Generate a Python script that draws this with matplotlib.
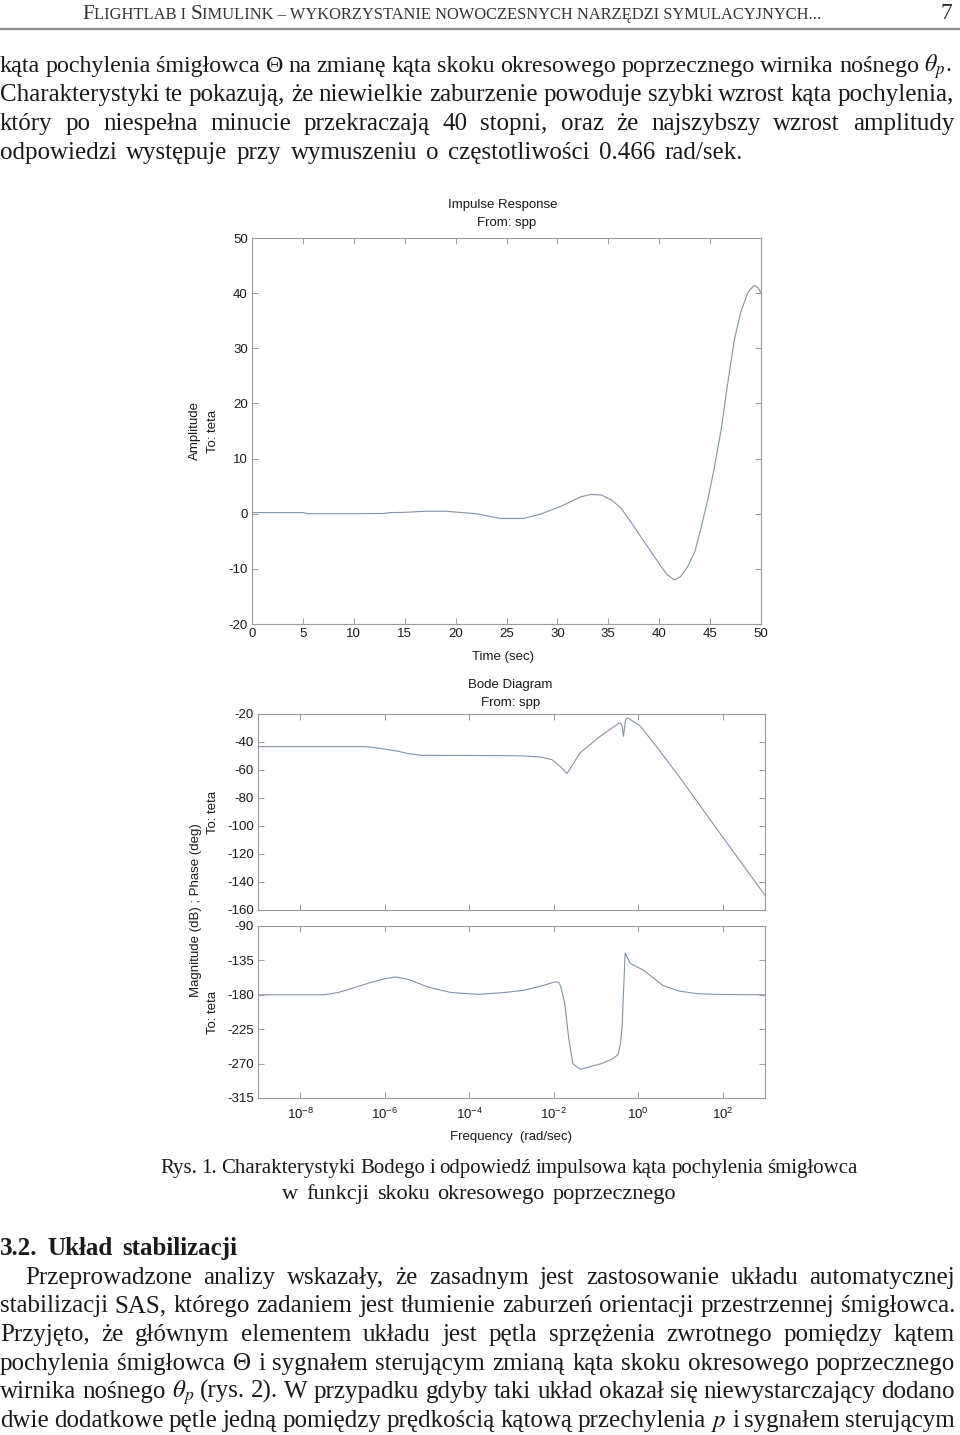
import matplotlib
matplotlib.use("Agg")
import matplotlib.pyplot as plt
import numpy as np

# ── data ─────────────────────────────────────────────────────────────────────

imp_t = [0, 5, 5.5, 10, 13, 13.5, 15, 17, 19, 20, 22, 24.4, 26.7, 28.3, 30.3,
         31.3, 32.3, 33.3, 34.3, 35.3, 36.25, 37.2, 38.2, 39.2, 40.2, 40.8,
         41.5, 42.1, 42.8, 43.5, 44.1, 44.8, 45.4, 46.1, 46.7, 47.4, 48.0,
         48.7, 49.3, 49.7, 50]
imp_amp = [0.2, 0.2, 0.0, 0.0, 0.05, 0.2, 0.25, 0.45, 0.45, 0.3, 0.0, -0.85,
           -0.85, -0.1, 1.3, 2.2, 3.07, 3.5, 3.4, 2.5, 1.0, -1.45, -4.2, -6.9,
           -9.6, -11.1, -12.0, -11.4, -9.6, -6.9, -2.65, 2.8, 8.2, 15.4, 23.3,
           31.7, 36.5, 40.1, 41.4, 41.0, 40.1]

mag_logw = [-9, -6.45, -6.2, -5.95, -5.7, -5.45, -5.15, -4.0, -3.0, -2.7,
            -2.33, -2.05, -1.85, -1.75, -1.69, -1.6, -1.38, -0.9, -0.6, -0.47,
            -0.42, -0.38, -0.35, -0.3, -0.25, 0.05, 0.5, 1.0, 2.0, 3.0]
mag_db = [-43.3, -43.3, -44.2, -45.3, -46.5, -48.2, -49.5, -49.6, -49.8,
          -50.0, -50.7, -52.5, -57.4, -60.5, -62.6, -58.5, -47.8, -35.9,
          -29.5, -26.8, -26.5, -28.7, -35.9, -24.0, -22.7, -28.7, -46.0,
          -66.0, -108.0, -149.5]

phase_logw = [-9, -7.43, -7.1, -6.8, -6.34, -6.0, -5.75, -5.43, -4.97, -4.43,
              -3.79, -3.15, -2.7, -2.24, -1.97, -1.88, -1.83, -1.74, -1.65,
              -1.55, -1.37, -0.87, -0.6, -0.48, -0.42, -0.38, -0.36, -0.31,
              -0.19, 0.13, 0.58, 0.95, 1.4, 1.86, 3.0]
phase_deg = [-180, -180, -177, -172, -164, -159, -156.7, -160, -170, -177,
             -179.4, -177, -174, -167.6, -163, -163.5, -170, -191.6, -235,
             -270, -277.5, -270, -263.6, -258, -244, -220, -191.6, -125.3,
             -139, -148, -167.6, -175, -178.5, -179.5, -180]

imp_xticks = [0, 5, 10, 15, 20, 25, 30, 35, 40, 45, 50]
imp_yticks = [-20, -10, 0, 10, 20, 30, 40, 50]
mag_yticks = [-160, -140, -120, -100, -80, -60, -40, -20]
phase_yticks = [-315, -270, -225, -180, -135, -90]
freq_exps = [-8, -6, -4, -2, 0, 2]

header_parts = [("F", 1.0), ("LIGHTLAB I ", 0.78), ("S", 1.0),
                ("IMULINK – WYKORZYSTANIE NOWOCZESNYCH NARZĘDZI SYMULACYJNYCH...", 0.78)]

para1 = [
    "kąta pochylenia śmigłowca Θ na zmianę kąta skoku okresowego poprzecznego wirnika nośnego $\\theta_p$.",
    "Charakterystyki te pokazują, że niewielkie zaburzenie powoduje szybki wzrost kąta pochylenia,",
    "który po niespełna minucie przekraczają 40 stopni, oraz że najszybszy wzrost amplitudy",
    "odpowiedzi występuje przy wymuszeniu o częstotliwości 0.466 rad/sek.",
]
caption = [
    "Rys. 1. Charakterystyki Bodego i odpowiedź impulsowa kąta pochylenia śmigłowca",
    "w funkcji skoku okresowego poprzecznego",
]
heading = "3.2. Układ stabilizacji"
para2 = [
    "Przeprowadzone analizy wskazały, że zasadnym jest zastosowanie układu automatycznej",
    "stabilizacji SAS, którego zadaniem jest tłumienie zaburzeń orientacji przestrzennej śmigłowca.",
    "Przyjęto, że głównym elementem układu jest pętla sprzężenia zwrotnego pomiędzy kątem",
    "pochylenia śmigłowca Θ i sygnałem sterującym zmianą kąta skoku okresowego poprzecznego",
    "wirnika nośnego $\\theta_p$ (rys. 2). W przypadku gdyby taki układ okazał się niewystarczający dodano",
    "dwie dodatkowe pętle jedną pomiędzy prędkością kątową przechylenia $p$ i sygnałem sterującym",
]

# ── page setup ───────────────────────────────────────────────────────────────

plt.rcParams["font.family"] = ["Liberation Sans", "DejaVu Sans"]
plt.rcParams["axes.unicode_minus"] = False
plt.rcParams["mathtext.fontset"] = "custom"
plt.rcParams["mathtext.rm"] = "Liberation Sans"
plt.rcParams["mathtext.it"] = "Liberation Sans:italic"
plt.rcParams["mathtext.bf"] = "Liberation Sans:bold"

W, H = 960, 1435
SERIF = ["Liberation Serif", "DejaVu Serif"]
LINE = "#8493a8"
FRAME = "#9c9c9c"
TXT = "#1a1a1a"
TICK_FS = 9.5

fig = plt.figure(figsize=(W / 100, H / 100), dpi=100)
renderer = fig.canvas.get_renderer()


def fy(y):
    return 1 - y / H


def place_words(line, y, x0, x1, size, weight="normal"):
    """Lay out the words of one line so they span x0..x1 (justified)."""
    words = line.split(" ")
    objs = [fig.text(0, fy(y), w, fontsize=size, family=SERIF, weight=weight,
                     color=TXT, va="baseline", math_fontfamily="stix")
            for w in words]
    while True:
        widths = [t.get_window_extent(renderer).width for t in objs]
        gap = (x1 - x0 - sum(widths)) / max(len(words) - 1, 1)
        if gap >= 0.2 * size * 100 / 72:
            break
        size *= 0.98
        for t in objs:
            t.set_fontsize(size)
    x = x0
    for t, w in zip(objs, widths):
        t.set_x(x / W)
        x += w + gap


# header in small caps
big = 15
objs = [fig.text(0, fy(19), s, fontsize=big * k, family=SERIF, color="#333333",
                 va="baseline") for s, k in header_parts]
widths = [t.get_window_extent(renderer).width for t in objs]
scale = 745 / sum(widths)
for t, (s, k) in zip(objs, header_parts):
    t.set_fontsize(big * k * scale)
widths = [t.get_window_extent(renderer).width for t in objs]
x = 452 - sum(widths) / 2
for t, w in zip(objs, widths):
    t.set_x(x / W)
    x += w
fig.text(952 / W, fy(19), "7", fontsize=17, family=SERIF, color="#333333",
         ha="right", va="baseline")
fig.add_artist(plt.Line2D([0, 1], [fy(29), fy(29)], color="#8a8a8a", lw=1.6,
                          transform=fig.transFigure))

# body text
BODY = 18
p1_base = [72, 101, 130, 159]
p1_right = [952, 954, 954, 743]
for line, y, r in zip(para1, p1_base, p1_right):
    place_words(line, y, 0, r, BODY)

place_words(caption[0], 1173, 160, 858, 16)
place_words(caption[1], 1199, 282, 676, 16)
place_words(heading, 1255, 0, 237, 18, weight="bold")

p2_base = [1284, 1312, 1341, 1370, 1398, 1427]
for i, (line, y) in enumerate(zip(para2, p2_base)):
    place_words(line, y, 25 if i == 0 else 0, 955, BODY)


# ── charts ───────────────────────────────────────────────────────────────────

def axes_px(left, top, right, bottom):
    return fig.add_axes([left / W, 1 - bottom / H, (right - left) / W,
                         (bottom - top) / H])


def matlab_style(ax):
    for sp in ax.spines.values():
        sp.set_color(FRAME)
        sp.set_linewidth(0.8)
    ax.tick_params(direction="in", top=True, right=True, length=4,
                   width=0.7, color=FRAME, labelsize=TICK_FS,
                   labelcolor=TXT, pad=3)
    ax.tick_params(which="minor", length=0)


# impulse response
ax = axes_px(252, 238, 761, 624)
ax.plot(imp_t, imp_amp, color=LINE, lw=0.8)
ax.set_xlim(0, 50)
ax.set_ylim(-20, 50)
ax.set_xticks(imp_xticks)
ax.set_yticks(imp_yticks)
matlab_style(ax)

fig.text(503 / W, fy(205), "Impulse Response", fontsize=TICK_FS, color=TXT,
         ha="center", va="center")
fig.text(507 / W, fy(223), "From: spp", fontsize=TICK_FS, color=TXT,
         ha="center", va="center")
fig.text(503 / W, fy(657), "Time (sec)", fontsize=TICK_FS, color=TXT,
         ha="center", va="center")
fig.text(195 / W, fy(431), "Amplitude", fontsize=TICK_FS, color=TXT,
         rotation=90, ha="center", va="center")
fig.text(213 / W, fy(431), "To: teta", fontsize=TICK_FS, color=TXT,
         rotation=90, ha="center", va="center")

# bode diagram
freq_ticks = [10.0 ** e for e in freq_exps]
freq_labels = [f"$10^{{{e}}}$" for e in freq_exps]

axm = axes_px(258, 714, 765, 910)
axm.semilogx(10.0 ** np.array(mag_logw), mag_db, color=LINE, lw=0.8)
axm.set_xlim(1e-9, 1e3)
axm.set_ylim(-160, -20)
axm.set_yticks(mag_yticks)
axm.set_xticks(freq_ticks)
axm.set_xticklabels([])
matlab_style(axm)

axp = axes_px(258, 926, 765, 1098)
axp.semilogx(10.0 ** np.array(phase_logw), phase_deg, color=LINE, lw=0.8)
axp.set_xlim(1e-9, 1e3)
axp.set_ylim(-315, -90)
axp.set_yticks(phase_yticks)
axp.set_xticks(freq_ticks)
axp.set_xticklabels(freq_labels)
matlab_style(axp)
axp.tick_params(axis="x", pad=6)

fig.text(510 / W, fy(685), "Bode Diagram", fontsize=TICK_FS, color=TXT,
         ha="center", va="center")
fig.text(511 / W, fy(703), "From: spp", fontsize=TICK_FS, color=TXT,
         ha="center", va="center")
fig.text(511 / W, fy(1137), "Frequency  (rad/sec)", fontsize=TICK_FS,
         color=TXT, ha="center", va="center")
fig.text(196 / W, fy(910), "Magnitude (dB) ; Phase (deg)", fontsize=TICK_FS,
         color=TXT, rotation=90, ha="center", va="center")
fig.text(213 / W, fy(812), "To: teta", fontsize=TICK_FS, color=TXT,
         rotation=90, ha="center", va="center")
fig.text(213 / W, fy(1012), "To: teta", fontsize=TICK_FS, color=TXT,
         rotation=90, ha="center", va="center")

fig.savefig("out.png", dpi=100)
